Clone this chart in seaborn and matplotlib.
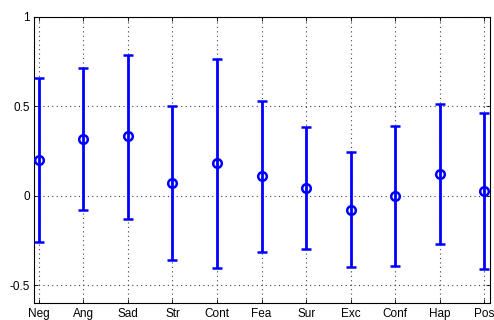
import matplotlib
matplotlib.use('Agg')
import matplotlib.pyplot as plt
import seaborn as sns
import numpy as np

# data
labels = ['Neg', 'Ang', 'Sad', 'Str', 'Cont', 'Fea', 'Sur', 'Exc', 'Conf', 'Hap', 'Pos']
means = [0.201, 0.317, 0.332, 0.069, 0.182, 0.108, 0.041, -0.077, -0.002, 0.121, 0.028]
upper = [0.655, 0.712, 0.787, 0.501, 0.763, 0.529, 0.384, 0.242, 0.392, 0.513, 0.462]
lower = [-0.257, -0.077, -0.129, -0.360, -0.401, -0.313, -0.299, -0.397, -0.392, -0.267, -0.407]

sns.set_style('ticks')
plt.rcParams['font.family'] = ['Liberation Sans', 'DejaVu Sans']

x = np.arange(1, len(labels) + 1)
m = np.array(means)
yerr = [m - np.array(lower), np.array(upper) - m]

fig = plt.figure(figsize=(4.94, 3.2), dpi=100)
ax = fig.add_axes([0.0695, 0.052, 0.9218, 0.896])

# capsize is half the cap length in matplotlib
ax.errorbar(x, m, yerr=yerr, fmt='o', color='#0000ff', ecolor='#0000ff',
            elinewidth=2, capsize=3.4, capthick=2,
            mfc='none', mec='#0000ff', mew=1.8, ms=6.2, zorder=3)

ax.set_xlim(0.9, 11.12)
ax.set_ylim(-0.6, 1)
ax.set_xticks(x)
ax.set_xticklabels(labels)
ax.set_yticks([-0.5, 0, 0.5, 1])
ax.set_yticklabels(['-0.5', '0', '0.5', '1'])
ax.grid(True, linestyle=(0, (1, 3)), color='#444444', linewidth=0.8)
ax.tick_params(direction='in', top=True, right=True, labelsize=8.5,
               length=3, width=0.6, pad=3, colors='black')
for s in ax.spines.values():
    s.set_visible(True)
    s.set_color('black')
    s.set_linewidth(0.8)

fig.savefig('out.png', dpi=100)
